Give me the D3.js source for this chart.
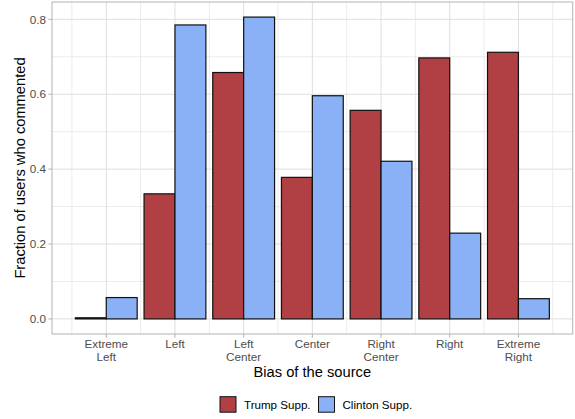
<!DOCTYPE html>
<html>
<head>
<meta charset="utf-8">
<script src="https://cdn.jsdelivr.net/npm/d3@7"></script>
<style>
  html, body { margin: 0; padding: 0; background: #fff; }
  svg { display: block; font-family: "Liberation Sans", Arial, sans-serif; }
</style>
</head>
<body>
<svg id="chart" width="575" height="419"></svg>
<script>
const categories = ["Extreme\nLeft", "Left", "Left\nCenter", "Center", "Right\nCenter", "Right", "Extreme\nRight"];
const seriesNames = ["Trump Supp.", "Clinton Supp."];
const trumpValues = [0.003, 0.334, 0.658, 0.378, 0.557, 0.697, 0.712];
const clintonValues = [0.057, 0.785, 0.806, 0.596, 0.421, 0.229, 0.054];
const yTicks = [0.0, 0.2, 0.4, 0.6, 0.8];
const yMinorTicks = [0.1, 0.3, 0.5, 0.7];
const colors = ["#b04043", "#8ab1f6"];

const svg = d3.select("#chart");
const m = { left: 52, right: 575 - 572.7, top: 2, bottom: 419 - 334 };
const W = 575, H = 419;
const x0 = m.left, x1 = W - m.right, y0 = m.top, y1 = H - m.bottom;

const x = d3.scaleBand().domain(d3.range(categories.length)).range([x0, x1]).paddingInner(0).paddingOuter(0.29);
const xs = d3.scaleBand().domain(seriesNames).range([0, x.bandwidth() * 0.9]);
const maxV = d3.max(trumpValues.concat(clintonValues));
const y = d3.scaleLinear().domain([-0.05 * maxV, maxV * 1.05]).range([y1, y0]);

const grid = svg.append("g");
yMinorTicks.forEach(v => grid.append("line").attr("x1", x0).attr("x2", x1).attr("y1", y(v)).attr("y2", y(v)).attr("stroke", "#e6e6e6").attr("stroke-width", 0.8));
yTicks.forEach(v => grid.append("line").attr("x1", x0).attr("x2", x1).attr("y1", y(v)).attr("y2", y(v)).attr("stroke", "#dedede").attr("stroke-width", 1));
for (let i = 0; i <= categories.length; i++) {
  const xv = i < categories.length ? x(i) : x(categories.length - 1) + x.step();
  grid.append("line").attr("x1", xv).attr("x2", xv).attr("y1", y0).attr("y2", y1).attr("stroke", "#e6e6e6").attr("stroke-width", 0.8);
}
categories.forEach((c, i) => {
  const xv = x(i) + x.bandwidth() / 2;
  grid.append("line").attr("x1", xv).attr("x2", xv).attr("y1", y0).attr("y2", y1).attr("stroke", "#dedede").attr("stroke-width", 1);
});

const data = [];
categories.forEach((c, i) => {
  data.push({ i, s: seriesNames[0], v: trumpValues[i], col: colors[0] });
  data.push({ i, s: seriesNames[1], v: clintonValues[i], col: colors[1] });
});
svg.append("g").selectAll("rect").data(data).join("rect")
  .attr("x", d => x(d.i) + x.bandwidth() * 0.05 + xs(d.s))
  .attr("width", xs.bandwidth())
  .attr("y", d => y(d.v))
  .attr("height", d => y(0) - y(d.v))
  .attr("fill", d => d.col)
  .attr("stroke", "#111")
  .attr("stroke-width", 1.2);

svg.append("rect").attr("x", x0).attr("y", y0).attr("width", x1 - x0).attr("height", y1 - y0)
  .attr("fill", "none").attr("stroke", "#b3b3b3").attr("stroke-width", 1);

const yAxis = svg.append("g");
yTicks.forEach(v => {
  yAxis.append("line").attr("x1", x0 - 3.7).attr("x2", x0).attr("y1", y(v)).attr("y2", y(v)).attr("stroke", "#b3b3b3");
  yAxis.append("text").attr("x", x0 - 6).attr("y", y(v)).attr("dy", "0.36em").attr("text-anchor", "end")
    .attr("font-size", 11.7).attr("fill", "#4d4d4d").text(d3.format(".1f")(v));
});

const xAxis = svg.append("g");
categories.forEach((c, i) => {
  const xv = x(i) + x.bandwidth() / 2;
  xAxis.append("line").attr("x1", xv).attr("x2", xv).attr("y1", y1).attr("y2", y1 + 3.7).attr("stroke", "#b3b3b3");
  const t = xAxis.append("text").attr("text-anchor", "middle").attr("font-size", 11.7).attr("fill", "#4d4d4d");
  c.split("\n").forEach((line, k) => {
    t.append("tspan").attr("x", xv).attr("y", 348.3 + k * 12.6).text(line);
  });
});

svg.append("text").attr("x", (x0 + x1) / 2).attr("y", 377).attr("text-anchor", "middle")
  .attr("font-size", 14.7).attr("fill", "#000").text("Bias of the source");
svg.append("text").attr("transform", `translate(25, ${(y0 + y1) / 2}) rotate(-90)`).attr("text-anchor", "middle")
  .attr("font-size", 14.7).attr("fill", "#000").text("Fraction of users who commented");

const legend = svg.append("g");
const legX = [220, 318.5];
seriesNames.forEach((s, k) => {
  legend.append("rect").attr("x", legX[k]).attr("y", 396.7).attr("width", 16).attr("height", 15.5)
    .attr("fill", colors[k]).attr("stroke", "#111").attr("stroke-width", 1);
  legend.append("text").attr("x", legX[k] + 24).attr("y", 404.5).attr("dy", "0.36em")
    .attr("font-size", 11.6).attr("fill", "#000").text(s);
});
</script>
</body>
</html>
